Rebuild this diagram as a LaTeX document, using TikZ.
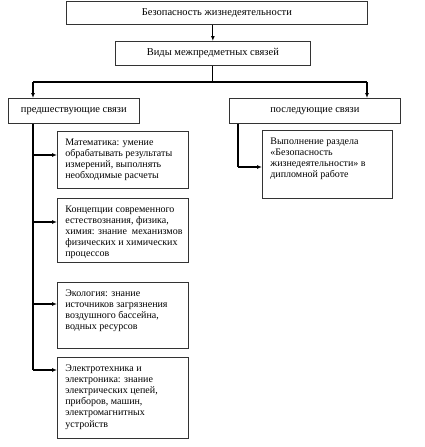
\documentclass[tikz,border=0pt]{standalone}
\usepackage{fontspec}
\setmainfont{Liberation Serif}
\usetikzlibrary{arrows.meta}
\begin{document}
\begin{tikzpicture}[x=1pt,y=-1pt,
  box/.style={draw=black!80, line width=0.7pt, fill=white, inner sep=0pt, anchor=north west,
    font=\fontsize{10.5}{11.5}\selectfont},
  tbox/.style={box, inner xsep=8pt, inner ysep=0pt, minimum width=131pt,
    font=\fontsize{10}{11.2}\selectfont},
  conn/.style={line width=1.1pt},
  arr/.style={conn, -{Latex[length=5pt,width=4pt]}}
]
\useasboundingbox (0,0) rectangle (424,447);
\newcommand{\txtbox}[3]{\parbox[c][#2pt][t]{#1pt}{\vspace*{6pt}\begin{tabular}{@{}l@{}}#3\end{tabular}}}
% boxes
\node[box, minimum width=301pt, minimum height=23pt] (top) at (66,1) {Безопасность жизнедеятельности};
\node[box, minimum width=195pt, minimum height=24pt] (kinds) at (115,41) {Виды межпредметных связей};
\node[box, minimum width=131pt, minimum height=25pt] (pre) at (8,98) {предшествующие связи};
\node[box, minimum width=171pt, minimum height=25pt] (post) at (229,98) {последующие связи};
\node[tbox] (math) at (57,131) {\txtbox{115}{57}{Математика: умение\\обрабатывать результаты\\измерений, выполнять\\необходимые расчеты}};
\node[tbox] (conc) at (57,198) {\txtbox{115}{64}{Концепции современного\\естествознания, физика,\\химия: знание\hspace{5pt}механизмов\\физических и химических\\процессов}};
\node[tbox] (eco) at (57,282) {\txtbox{115}{66}{Экология: знание\\источников загрязнения\\воздушного бассейна,\\водных ресурсов}};
\node[tbox] (elec) at (57,357) {\txtbox{115}{81}{Электротехника и\\электроника: знание\\электрических цепей,\\приборов, машин,\\электромагнитных\\устройств}};
\node[tbox, minimum width=130pt] (dipl) at (262,130) {\txtbox{114}{68}{Выполнение раздела\\«Безопасность\\жизнедеятельности» в\\дипломной работе}};
% junction coordinates
\coordinate (jl) at (33,82);
\coordinate (jr) at (367,82);
\coordinate (t1) at (33,155);
\coordinate (t2) at (33,222);
\coordinate (t3) at (33,304);
\coordinate (t4) at (33,370);
\coordinate (r1) at (238,167);
% connectors
\draw[arr] (top.south -| kinds.north) -- (kinds.north);
\draw[conn] (kinds.south) -- (kinds.south |- jl);
\draw[conn] (jl) -- (jr);
\draw[arr] (jl) -- (jl |- pre.north);
\draw[arr] (jr) -- (jr |- post.north);
\draw[conn] (jl |- pre.south) -- (t4);
\draw[arr] (t1) -- (t1 -| math.west);
\draw[arr] (t2) -- (t2 -| conc.west);
\draw[arr] (t3) -- (t3 -| eco.west);
\draw[arr] (t4) -- (t4 -| elec.west);
\draw[conn] (r1 |- post.south) -- (r1);
\draw[arr] (r1) -- (r1 -| dipl.west);
\end{tikzpicture}
\end{document}
